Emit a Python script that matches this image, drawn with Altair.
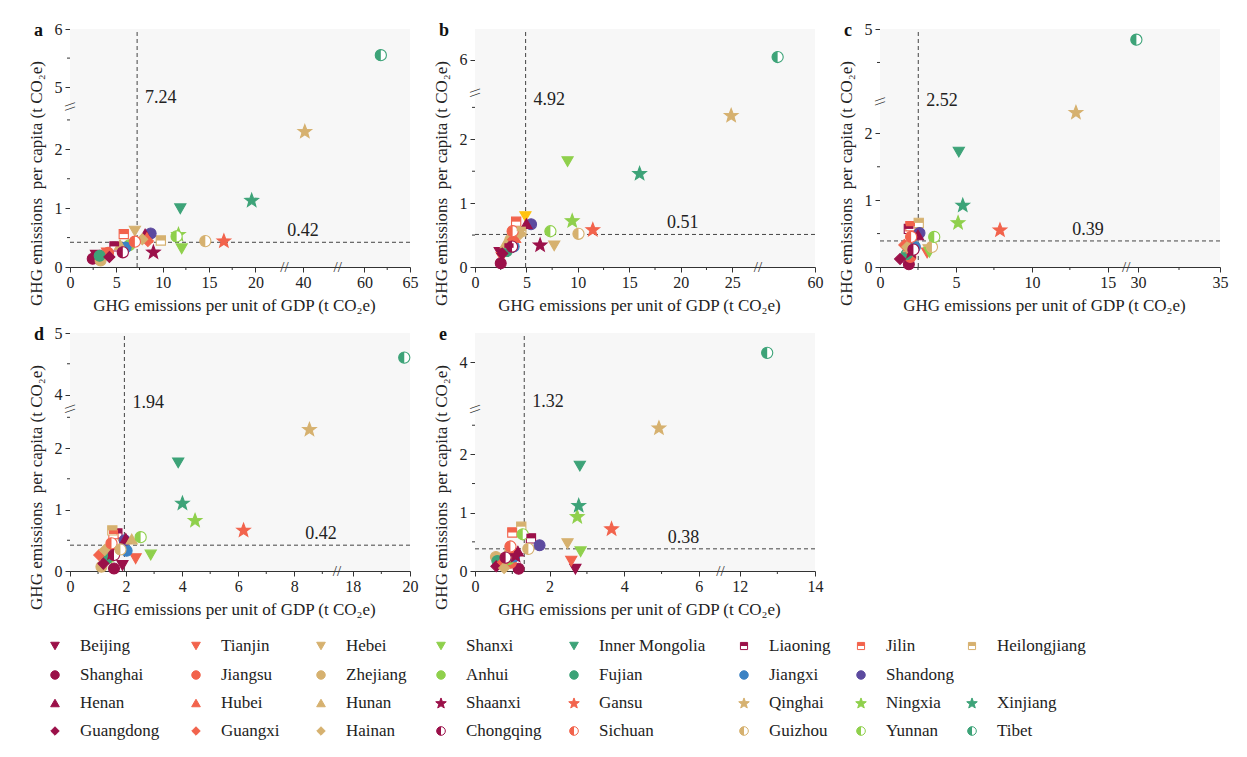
import math
import altair as alt
import pandas as pd

# ---------------- data ----------------
PROVINCES = ["Beijing", "Tianjin", "Hebei", "Shanxi", "Inner Mongolia", "Liaoning", "Jilin", "Heilongjiang",
             "Shanghai", "Jiangsu", "Zhejiang", "Anhui", "Fujian", "Jiangxi", "Shandong",
             "Henan", "Hubei", "Hunan", "Shaanxi", "Gansu", "Qinghai", "Ningxia", "Xinjiang",
             "Guangdong", "Guangxi", "Hainan", "Chongqing", "Sichuan", "Guizhou", "Yunnan", "Tibet"]
MARKERS = (["tri_down"] * 5 + ["half_sq"] * 3 + ["circle"] * 7 + ["tri_up"] * 3 + ["star"] * 5
           + ["diamond"] * 3 + ["half_circle"] * 5)
COLOR_KEYS = ["maroon", "orange", "tan", "lgreen", "green", "maroon", "orange", "tan",
              "maroon", "orange", "tan", "lgreen", "green", "blue", "purple",
              "maroon", "orange", "tan", "maroon", "orange", "tan", "lgreen", "green",
              "maroon", "orange", "tan", "maroon", "orange", "tan", "lgreen", "green"]
LEGEND_ROW_SIZES = [8, 7, 8, 8]

PANEL_IDS = ["a", "b", "c", "d", "e"]
THR_X = [7.24, 4.92, 2.52, 1.94, 1.32]
THR_Y = [0.42, 0.51, 0.39, 0.42, 0.38]

A_X = [2.8, 4.0, 7.0, 12.05, 11.9, 4.8, 5.8, 9.8, 2.45, 4.1, 3.3, 6.4, 3.2, 6.0, 8.7, 8.1, 8.3, 5.4, 9.0,
       16.6, 40.2, 11.7, 19.6, 4.25, 8.4, 7.8, 5.7, 7.0, 14.6, 11.5, 61.8]
A_Y = [0.20, 0.24, 0.61, 0.31, 0.99, 0.35, 0.56, 0.45, 0.14, 0.24, 0.11, 0.37, 0.19, 0.33, 0.57, 0.56, 0.50,
       0.38, 0.26, 0.45, 2.31, 0.56, 1.14, 0.17, 0.44, 0.47, 0.25, 0.43, 0.44, 0.52, 5.55]
B_X = [2.4, 2.6, 7.7, 9.0, 4.9, 3.3, 4.0, 4.5, 2.5, 3.4, 3.45, 3.3, 3.1, 3.76, 5.45, 5.0, 3.9, 3.0, 6.33,
       11.45, 24.9, 9.45, 16.0, 2.65, 3.7, 4.4, 3.6, 3.66, 10.06, 7.33, 56.4]
B_Y = [0.23, 0.15, 0.33, 1.65, 0.79, 0.30, 0.71, 0.56, 0.06, 0.38, 0.43, 0.35, 0.25, 0.32, 0.67, 0.68, 0.46,
       0.38, 0.35, 0.59, 2.38, 0.73, 1.47, 0.21, 0.43, 0.52, 0.32, 0.56, 0.52, 0.56, 6.04]
C_X = [1.9, 3.1, 3.2, 3.25, 5.19, 1.9, 2.0, 2.55, 1.9, 2.0, 2.05, 1.9, 1.75, 2.3, 2.6, 2.5, 2.1, 1.9, 2.05,
       7.9, 12.9, 5.14, 5.45, 1.32, 1.6, 1.8, 2.2, 2.05, 3.42, 3.57, 29.9]
C_Y = [0.09, 0.21, 0.26, 0.22, 1.72, 0.57, 0.61, 0.66, 0.04, 0.15, 0.36, 0.22, 0.19, 0.30, 0.51, 0.48, 0.28,
       0.30, 0.24, 0.56, 2.32, 0.67, 0.93, 0.12, 0.33, 0.30, 0.26, 0.45, 0.30, 0.45, 4.84]
D_X = [1.87, 2.34, 1.9, 2.88, 3.86, 1.69, 1.55, 1.51, 1.57, 1.35, 1.12, 1.4, 1.3, 2.02, 1.95, 1.99, 1.6, 2.2,
       1.5, 6.19, 8.54, 4.46, 4.01, 1.19, 1.04, 1.24, 1.57, 1.48, 1.8, 2.52, 19.8]
D_Y = [0.09, 0.20, 0.45, 0.26, 1.76, 0.61, 0.60, 0.66, 0.04, 0.30, 0.07, 0.22, 0.20, 0.33, 0.50, 0.53, 0.35,
       0.52, 0.30, 0.67, 2.31, 0.83, 1.11, 0.12, 0.26, 0.34, 0.26, 0.45, 0.35, 0.55, 4.60]
E_X = [2.69, 2.58, 2.48, 2.83, 2.81, 1.5, 1.0, 1.24, 1.17, 0.96, 0.56, 0.9, 0.6, 1.05, 1.73, 1.15, 1.0, 0.85,
       1.09, 3.66, 4.93, 2.74, 2.78, 0.57, 0.75, 0.78, 0.82, 0.95, 1.43, 1.28, 12.73]
E_Y = [0.03, 0.17, 0.47, 0.33, 1.80, 0.56, 0.66, 0.76, 0.04, 0.14, 0.24, 0.20, 0.17, 0.25, 0.44, 0.34, 0.30,
       0.32, 0.27, 0.73, 2.46, 0.94, 1.13, 0.08, 0.15, 0.05, 0.23, 0.42, 0.38, 0.63, 4.16]
PANEL_X = [A_X, B_X, C_X, D_X, E_X]
PANEL_Y = [A_Y, B_Y, C_Y, D_Y, E_Y]
COLOR_OVERRIDES = {("b", "Inner Mongolia"): "gold"}

# ---------------- styles / layout ----------------
FONT = "Liberation Serif"
W, H = 340, 238
PALETTE = {"maroon": "#9b1049", "orange": "#f2634c", "tan": "#d6b16f", "lgreen": "#8fd04c",
           "green": "#3da378", "blue": "#3b82c4", "purple": "#5c4a9f", "gold": "#ffc20e"}


def star_path(inner=0.42):
    pts = []
    for k in range(10):
        r = 1.0 if k % 2 == 0 else inner
        a = math.radians(-90 + 36 * k)
        pts.append(f"{r * math.cos(a):.3f},{r * math.sin(a) + 0.09:.3f}")
    return "M" + "L".join(pts) + "Z"


BASE_SHAPE = {"tri_down": "triangle-down", "tri_up": "triangle-up", "circle": "circle",
              "diamond": "diamond", "star": star_path(), "half_sq": "square", "half_circle": "circle"}
HALF_SHAPE = {"half_sq": "M-1,-1L1,-1L1,0L-1,0Z", "half_circle": "M0,-1A1,1,0,0,0,0,1Z"}
SIZE = {"tri_down": 125, "tri_up": 125, "circle": 120, "diamond": 120, "star": 205,
        "half_sq": 85, "half_circle": 125}

LAYOUT = {
    "a": dict(xdom=[0, 23.13, 38.0, 43.74, 57.07, 65], xrng=[0, 214.4, 214.4, 267.7, 267.7, 340],
              ydom=[0, 2.73, 4.67, 6], yrng=[238, 77.4, 77.4, 0],
              xticks=[0, 5, 10, 15, 20, 40, 60, 65], yticks=[0, 1, 2, 5, 6],
              xminor=[2.5, 7.5, 12.5, 17.5, 62.5], yminor=[0.5, 1.5, 2.5, 5.5], vlab_y=4.81, hlab_x=40.0),
    "b": dict(xdom=[0, 27.5, 54.5, 60], xrng=[0, 282.9, 282.9, 340],
              ydom=[0, 2.73, 5.48, 6.48], yrng=[238, 63.7, 63.7, 0],
              xticks=[0, 5, 10, 15, 20, 25, 60], yticks=[0, 1, 2, 6],
              xminor=[2.5, 7.5, 12.5, 17.5, 22.5], yminor=[0.5, 1.5, 2.5], vlab_y=2.61, hlab_x=20.2),
    "c": dict(xdom=[0, 16.21, 29.28, 35], xrng=[0, 246.2, 246.2, 340],
              ydom=[0, 2.48, 3.92, 5], yrng=[238, 72.3, 72.3, 0],
              xticks=[0, 5, 10, 15, 30, 35], yticks=[0, 1, 2, 5],
              xminor=[2.5, 7.5, 12.5, 32.5], yminor=[0.5, 1.5, 4.5], vlab_y=3.0, hlab_x=13.7),
    "d": dict(xdom=[0, 9.52, 17.45, 20], xrng=[0, 266.9, 266.9, 340],
              ydom=[0, 2.64, 3.77, 5], yrng=[238, 75.7, 75.7, 0],
              xticks=[0, 2, 4, 6, 8, 18, 20], yticks=[0, 1, 2, 4, 5],
              xminor=[1, 3, 5, 7, 9, 19], yminor=[0.5, 1.5, 2.5, 4.5], vlab_y=3.87, hlab_x=8.95),
    "e": dict(xdom=[0, 6.58, 11.49, 14], xrng=[0, 245.5, 245.5, 340],
              ydom=[0, 2.78, 3.2, 4.5], yrng=[238, 75.9, 75.9, 0],
              xticks=[0, 2, 4, 6, 12, 14], yticks=[0, 1, 2, 4],
              xminor=[1, 3, 5, 13], yminor=[0.5, 1.5, 2.5], vlab_y=3.31, hlab_x=5.59),
}

AXIS_COMMON = dict(grid=False, labelFont=FONT, labelFontSize=16, titleFont=FONT, titleFontSize=17,
                   titleFontWeight="normal", domainColor="#333", tickColor="#333", labelColor="#222",
                   titleColor="#222", tickSize=5, labelOverlap=False, format="d")


def xaxis(vals):
    return alt.Axis(values=vals, title="GHG emissions per unit of GDP (t CO\u2082e)", labelPadding=2,
                    labelFlush=False, titleX=W / 2 - 6, titleY=38, titleBaseline="middle",
                    titleAlign="center", **AXIS_COMMON)


def yaxis(vals):
    return alt.Axis(values=vals, title="GHG emissions\u00a0 per capita (t CO\u2082e)", labelPadding=3,
                    titleAngle=270, titleX=-34, titleY=154, titleBaseline="middle", titleAlign="center",
                    **AXIS_COMMON)


def point_tables(pid, xs, ys, scale=1.0):
    base, half = [], []
    for prov, mk, ck, x, y in zip(PROVINCES, MARKERS, COLOR_KEYS, xs, ys):
        col = PALETTE[COLOR_OVERRIDES.get((pid, prov), ck)]
        is_half = mk in HALF_SHAPE
        base.append(dict(x=x, y=y, prov=prov, shp=BASE_SHAPE[mk], fill="white" if is_half else col,
                         stroke=col, sz=SIZE[mk] * scale))
        if is_half:
            half.append(dict(x=x, y=y, prov=prov, shp=HALF_SHAPE[mk], fill=col, sz=SIZE[mk] * scale))
    return pd.DataFrame(base), pd.DataFrame(half)


def panel(i, pid):
    L = LAYOUT[pid]
    xsc = alt.Scale(domain=L["xdom"], range=L["xrng"], nice=False, zero=False)
    ysc = alt.Scale(domain=L["ydom"], range=L["yrng"], nice=False, zero=False)
    X = lambda f="x": alt.X(f"{f}:Q", scale=xsc, axis=xaxis(L["xticks"]))
    Y = lambda f="y": alt.Y(f"{f}:Q", scale=ysc, axis=yaxis(L["yticks"]))
    one = pd.DataFrame({"k": [0]})

    bg = alt.Chart(one).mark_rect(color="#f7f7f7").encode(
        x=alt.value(0), x2=alt.value(W), y=alt.value(0), y2=alt.value(H))
    xmin = alt.Chart(pd.DataFrame({"x": L["xminor"]})).mark_rule(color="#333").encode(
        x=X(), y=alt.value(H), y2=alt.value(H + 3))
    ymin = alt.Chart(pd.DataFrame({"y": L["yminor"]})).mark_rule(color="#333").encode(
        y=Y(), x=alt.value(0), x2=alt.value(-3))
    vline = alt.Chart(pd.DataFrame({"x": [THR_X[i]], "y": [0], "y2": [L["ydom"][-1]]})).mark_rule(
        color="#444", strokeDash=[4, 3], strokeWidth=1).encode(x=X(), y=Y(), y2="y2:Q")
    hline = alt.Chart(pd.DataFrame({"y": [THR_Y[i]], "x": [0], "x2": [L["xdom"][-1]]})).mark_rule(
        color="#444", strokeDash=[4, 3], strokeWidth=1).encode(y=Y(), x=X(), x2="x2:Q")

    xd, xr = L["xdom"], L["xrng"]
    xbreaks = [(xd[k] + xd[k + 1]) / 2 for k in range(len(xd) - 1) if xr[k] == xr[k + 1]]
    yd, yr = L["ydom"], L["yrng"]
    ybreaks = [(yd[k] + yd[k + 1]) / 2 for k in range(len(yd) - 1) if yr[k] == yr[k + 1]]
    xbrk = alt.Chart(pd.DataFrame({"x": xbreaks, "y": [0] * len(xbreaks)})).mark_text(
        text="//", fontSize=15, baseline="middle", align="center", color="#333").encode(x=X(), y=Y())
    ybrk = alt.Chart(pd.DataFrame({"x": [0] * len(ybreaks), "y": ybreaks})).mark_text(
        text="\\\\", fontSize=15, angle=90, baseline="middle", align="center", color="#333").encode(
        x=X(), y=Y())

    base_df, half_df = point_tables(pid, PANEL_X[i], PANEL_Y[i])
    pts = alt.Chart(base_df).mark_point(filled=True, opacity=1, strokeWidth=1.1).encode(
        x=X(), y=Y(), shape=alt.Shape("shp:N", scale=None), fill=alt.Fill("fill:N", scale=None),
        stroke=alt.Stroke("stroke:N", scale=None), size=alt.Size("sz:Q", scale=None))
    halves = alt.Chart(half_df).mark_point(filled=True, opacity=1, strokeWidth=0).encode(
        x=X(), y=Y(), shape=alt.Shape("shp:N", scale=None), fill=alt.Fill("fill:N", scale=None),
        size=alt.Size("sz:Q", scale=None))

    vlab = alt.Chart(pd.DataFrame({"x": [THR_X[i]], "y": [L["vlab_y"]], "t": [f"{THR_X[i]:.2f}"]})).mark_text(
        align="left", baseline="middle", dx=8, fontSize=18, color="#222").encode(x=X(), y=Y(), text="t:N")
    hlab = alt.Chart(pd.DataFrame({"x": [L["hlab_x"]], "y": [THR_Y[i]], "t": [f"{THR_Y[i]:.2f}"]})).mark_text(
        align="center", baseline="bottom", dy=-2, fontSize=18, color="#222").encode(x=X(), y=Y(), text="t:N")
    letter = alt.Chart(pd.DataFrame({"t": [pid]})).mark_text(
        align="left", baseline="middle", fontSize=18, fontWeight="bold", color="#111").encode(
        text="t:N", x=alt.value(-36), y=alt.value(2))

    return alt.layer(bg, xmin, ymin, vline, hline, xbrk, ybrk, pts, halves, vlab, hlab, letter).properties(
        width=W, height=H)


# ---------------- legend ----------------
LEG_ORIGIN_X = 71
LEG_COL_X = [56, 197, 322, 442, 575, 745, 862, 973]
LEG_ROW_Y = [17, 46, 74, 102]
LW, LH = 1080, 117

rows, cols = [], []
for r, n in enumerate(LEGEND_ROW_SIZES):
    for c in range(n):
        rows.append(r)
        cols.append(c)
lbase, lhalf = point_tables("legend", [LEG_COL_X[c] - LEG_ORIGIN_X for c in cols],
                            [LEG_ROW_Y[r] for r in rows], scale=0.6)
lxs = alt.Scale(domain=[-40, LW], range=[-40, LW])
lys = alt.Scale(domain=[0, LH], range=[0, LH])
LX = alt.X("x:Q", scale=lxs, axis=None)
LY = alt.Y("y:Q", scale=lys, axis=None)
leg_pts = alt.Chart(lbase).mark_point(filled=True, opacity=1, strokeWidth=1).encode(
    x=LX, y=LY, shape=alt.Shape("shp:N", scale=None), fill=alt.Fill("fill:N", scale=None),
    stroke=alt.Stroke("stroke:N", scale=None), size=alt.Size("sz:Q", scale=None))
leg_half = alt.Chart(lhalf).mark_point(filled=True, opacity=1, strokeWidth=0).encode(
    x=LX, y=LY, shape=alt.Shape("shp:N", scale=None), fill=alt.Fill("fill:N", scale=None),
    size=alt.Size("sz:Q", scale=None))
leg_txt = alt.Chart(lbase).mark_text(align="left", baseline="middle", dx=25, fontSize=17,
                                     color="#222").encode(x=LX, y=LY, text="prov:N")
legend = alt.layer(leg_pts, leg_half, leg_txt).properties(width=LW, height=LH)

panels = [panel(i, pid) for i, pid in enumerate(PANEL_IDS)]
top = alt.hconcat(panels[0], panels[1], panels[2], spacing=13)
bottom = alt.hconcat(panels[3], panels[4], spacing=13)
chart = alt.vconcat(top, bottom, legend, spacing=12).properties(
    padding={"left": 18, "top": 13, "right": 5, "bottom": 5}
).configure(font=FONT).configure_view(stroke=None)

chart.save("out.html", embed_options={"renderer": "svg", "actions": False})
